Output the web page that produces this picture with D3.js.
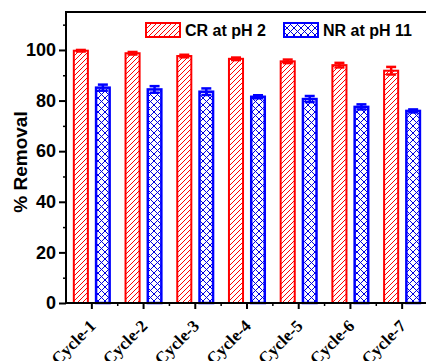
<!DOCTYPE html>
<html><head><meta charset="utf-8">
<script src="https://cdn.jsdelivr.net/npm/d3@7"></script>
<style>body{margin:0;background:#fff;} svg{display:block;}</style>
</head><body>
<script>
const categories = ["Cycle-1","Cycle-2","Cycle-3","Cycle-4","Cycle-5","Cycle-6","Cycle-7"];
const seriesNames = ["CR at pH 2","NR at pH 11"];
const crValues = [99.7, 98.7, 97.6, 96.5, 95.5, 94.0, 91.8];
const crErrors = [0.3, 0.5, 0.5, 0.5, 0.7, 0.9, 1.5];
const nrValues = [85.1, 84.4, 83.5, 81.5, 80.6, 77.5, 75.9];
const nrErrors = [1.2, 1.3, 1.3, 0.6, 1.2, 1.0, 0.6];
const yTicks = [0, 20, 40, 60, 80, 100];
const yMinorTicks = [10, 30, 50, 70, 90, 110];

const W = 426, H = 361;
const svg = d3.select("body").append("svg").attr("width", W).attr("height", H);
const defs = svg.append("defs");

// patterns
const pr = defs.append("pattern").attr("id","hatchRed").attr("patternUnits","userSpaceOnUse")
  .attr("width",5).attr("height",5);
pr.append("rect").attr("width",5).attr("height",5).attr("fill","#fff");
pr.append("path").attr("d","M-1,1 L1,-1 M0,5 L5,0 M4,6 L6,4").attr("stroke","#ff0000").attr("stroke-width",1);
const pb = defs.append("pattern").attr("id","hatchBlue").attr("patternUnits","userSpaceOnUse")
  .attr("width",7).attr("height",7);
pb.append("rect").attr("width",7).attr("height",7).attr("fill","#fff");
pb.append("path").attr("d","M-1,1 L1,-1 M0,7 L7,0 M6,8 L8,6 M-1,6 L1,8 M0,0 L7,7 M6,-1 L8,1")
  .attr("stroke","#0000dd").attr("stroke-width",1);

const mLeft = 66, mTop = 12, mBottom = 303, mRight = 428;
const x = d3.scaleBand().domain(categories).range([mLeft, mRight]).padding(0);
const xs = d3.scaleBand().domain(seriesNames).range([0, x.bandwidth()]).paddingInner(0.27).paddingOuter(0.31);
const y = d3.scaleLinear().domain([0, 115]).range([mBottom, mTop]);

const series = [
  {name: seriesNames[0], values: crValues, errors: crErrors, color: "#ff0000", fill: "url(#hatchRed)", sw: 2},
  {name: seriesNames[1], values: nrValues, errors: nrErrors, color: "#0000ff", fill: "url(#hatchBlue)", sw: 2.5}
];

series.forEach(s => {
  const g = svg.append("g");
  const data = categories.map((c, i) => ({c, v: s.values[i], e: s.errors[i]}));
  g.selectAll("rect").data(data).join("rect")
    .attr("x", d => x(d.c) + xs(s.name) + s.sw/2)
    .attr("width", xs.bandwidth() - s.sw)
    .attr("y", d => y(d.v))
    .attr("height", d => y(0) - y(d.v))
    .attr("fill", s.fill).attr("stroke", s.color).attr("stroke-width", s.sw);
  const cx = d => x(d.c) + xs(s.name) + xs.bandwidth()/2;
  g.selectAll("line.eb").data(data).join("line").attr("class","eb")
    .attr("x1", cx).attr("x2", cx)
    .attr("y1", d => y(d.v + d.e)).attr("y2", d => y(d.v - d.e))
    .attr("stroke", s.color).attr("stroke-width", 2.5);
  g.selectAll("line.capt").data(data).join("line").attr("class","capt")
    .attr("x1", d => cx(d) - 5).attr("x2", d => cx(d) + 5)
    .attr("y1", d => y(d.v + d.e)).attr("y2", d => y(d.v + d.e))
    .attr("stroke", s.color).attr("stroke-width", 2.5);
  g.selectAll("line.capb").data(data).join("line").attr("class","capb")
    .attr("x1", d => cx(d) - 5).attr("x2", d => cx(d) + 5)
    .attr("y1", d => y(d.v - d.e)).attr("y2", d => y(d.v - d.e))
    .attr("stroke", s.color).attr("stroke-width", 2.5);
});

// axes
const yAxis = svg.append("g").attr("transform", `translate(${mLeft},0)`)
  .call(d3.axisLeft(y).tickValues(yTicks).tickSize(7).tickPadding(3).tickFormat(d3.format("d")));
yAxis.select(".domain").remove();
yAxis.selectAll(".tick line").attr("stroke-width", 2);
yAxis.selectAll("text").attr("font-family","Liberation Sans, Arial, sans-serif")
  .attr("font-weight","bold").attr("font-size",18).attr("fill","#000");
const yMinor = svg.append("g").attr("transform", `translate(${mLeft},0)`)
  .call(d3.axisLeft(y).tickValues(yMinorTicks).tickSize(3).tickFormat(""));
yMinor.select(".domain").remove();
yMinor.selectAll(".tick line").attr("stroke-width", 1.5);

const xAxis = svg.append("g").attr("transform", `translate(0,${mBottom})`)
  .call(d3.axisBottom(x).tickSize(6).tickPadding(0));
xAxis.select(".domain").remove();
xAxis.selectAll(".tick line").attr("stroke-width", 2);
xAxis.selectAll("text")
  .attr("font-family","Liberation Serif, Times New Roman, serif")
  .attr("font-weight","bold").attr("font-size",17).attr("fill","#000")
  .attr("text-anchor","end")
  .attr("x", 0).attr("y", 0).attr("dy", 0)
  .attr("transform","translate(5,24) rotate(-45)");
const xMinorVals = categories.slice(1).map(c => x(c));
svg.append("g").selectAll("line").data(xMinorVals).join("line")
  .attr("x1", d => d).attr("x2", d => d).attr("y1", mBottom).attr("y2", mBottom + 3)
  .attr("stroke","#000").attr("stroke-width",1.5);

// frame
svg.append("rect").attr("x", mLeft).attr("y", mTop).attr("width", mRight - mLeft).attr("height", mBottom - mTop)
  .attr("fill","none").attr("stroke","#000").attr("stroke-width",2);

// y label
svg.append("text").attr("transform", `translate(27,162) rotate(-90)`)
  .attr("text-anchor","middle").attr("font-family","Liberation Sans, Arial, sans-serif")
  .attr("font-weight","bold").attr("font-size",19).text("% Removal");

// legend
const legendX = [145, 283];
series.forEach((s, i) => {
  svg.append("rect").attr("x", legendX[i] + 1).attr("y", 23).attr("width", 34).attr("height", 14)
    .attr("fill", s.fill).attr("stroke", s.color).attr("stroke-width", 2);
  svg.append("text").attr("x", legendX[i] + 40).attr("y", 36)
    .attr("font-family","Liberation Sans, Arial, sans-serif").attr("font-weight","bold")
    .attr("font-size",16).text(s.name);
});
</script>
</body></html>
